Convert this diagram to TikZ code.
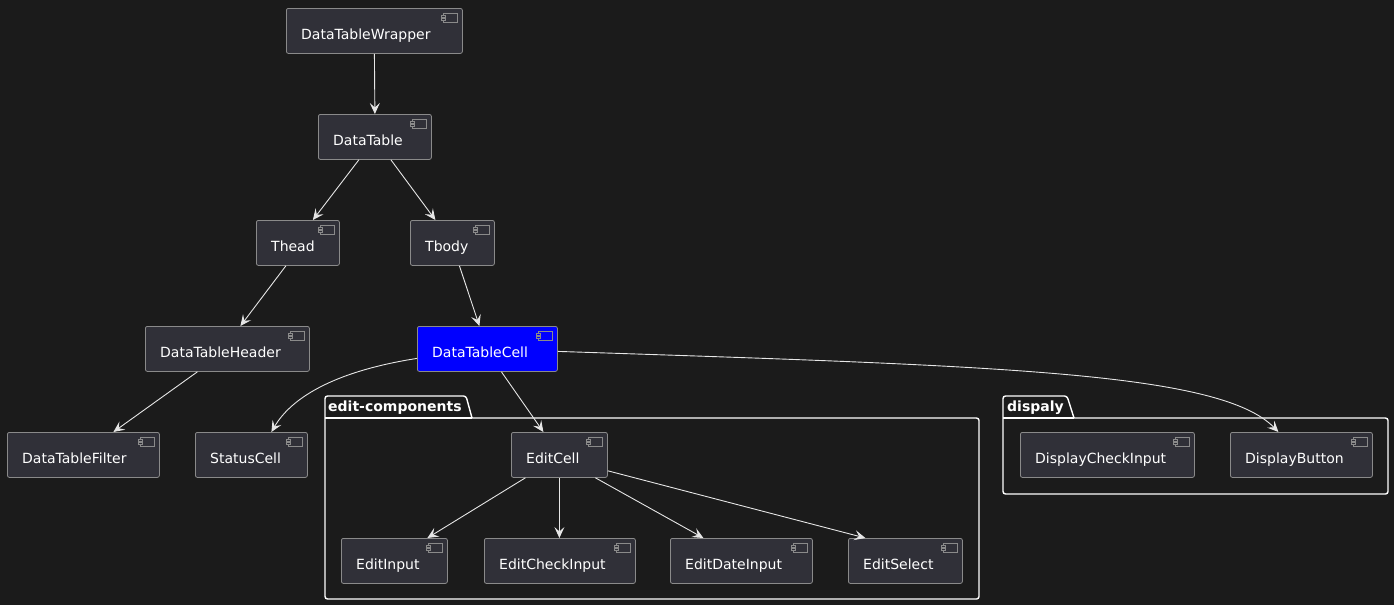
\documentclass[tikz,border=0pt]{standalone}
\usepackage{fontspec}
\setmainfont{DejaVu Sans}
\usetikzlibrary{arrows.meta}
\definecolor{bg}{HTML}{1B1B1B}
\definecolor{compfill}{HTML}{303038}
\definecolor{compline}{HTML}{8A8A8A}
\definecolor{edgecol}{HTML}{E6E6E6}
\definecolor{cellblue}{HTML}{0000FF}
\tikzset{
  compbox/.style={draw=compline, line width=0.8pt, rounded corners=2pt, inner sep=0pt},
  comptext/.style={text=white, font=\fontsize{14}{16}\selectfont, anchor=base west, inner sep=0pt},
  flow/.style={draw=edgecol, line width=0.9pt, -{Stealth[length=11pt,width=10pt,inset=4.5pt]}},
  pkg/.style={draw=white, line width=1.4pt},
  pkgtext/.style={text=white, font=\bfseries\fontsize{14}{16}\selectfont, anchor=base west, inner sep=0pt}
}
% #1 name, #2 left, #3 top, #4 right, #5 bottom, #6 text, #7 fill
\newcommand\compnode[7]{%
  \node[compbox, fill=#7, minimum width=#4pt-#2pt, minimum height=#5pt-#3pt, anchor=north west] (#1) at (#2,#3) {};
  \node[comptext] (#1-t) at (#2+15,#3+31.5) {#6};
  \draw[compline, line width=0.7pt] (#4-19,#3+5) rectangle (#4-5,#3+14);
  \draw[compline, line width=0.7pt, fill=#7] (#4-21,#3+7) rectangle (#4-17,#3+9);
  \draw[compline, line width=0.7pt, fill=#7] (#4-21,#3+10.5) rectangle (#4-17,#3+12.5);
}
\begin{document}
\begin{tikzpicture}[x=1pt,y=-1pt]
\fill[bg] (0,0) rectangle (1394,605);
\useasboundingbox (0,0) rectangle (1394,605);

% packages
\draw[pkg, rounded corners=2.5pt] (325,418) -- (325,396) -- (466,396) [sharp corners] -- (472,418) [rounded corners=2.5pt] -- (979,418) -- (979,599) -- (325,599) -- (325,418);
\draw[white, line width=1.4pt] (325,418) -- (472,418);
\node[pkgtext] (pkgedit) at (328,411) {edit-components};
\draw[pkg, rounded corners=2.5pt] (1003,418) -- (1003,396) -- (1067,396) [sharp corners] -- (1074,418) [rounded corners=2.5pt] -- (1388,418) -- (1388,494) -- (1003,494) -- (1003,418);
\draw[white, line width=1.4pt] (1003,418) -- (1074,418);
\node[pkgtext] (pkgdisp) at (1007,411) {dispaly};

\compnode{wrapper}{286}{8}{462}{53}{DataTableWrapper}{compfill}
\compnode{table}{318}{114}{431}{159}{DataTable}{compfill}
\compnode{thead}{256}{220}{339}{265}{Thead}{compfill}
\compnode{tbody}{410}{220}{494}{265}{Tbody}{compfill}
\compnode{header}{145}{326}{309}{371}{DataTableHeader}{compfill}
\compnode{cell}{417}{326}{557}{371}{DataTableCell}{cellblue}
\compnode{filter}{7}{432}{159}{477}{DataTableFilter}{compfill}
\compnode{status}{195}{432}{307}{477}{StatusCell}{compfill}
\compnode{editcell}{511}{432}{607}{477}{EditCell}{compfill}
\compnode{editinput}{341}{538}{447}{583}{EditInput}{compfill}
\compnode{editcheck}{484}{538}{635}{583}{EditCheckInput}{compfill}
\compnode{editdate}{670}{538}{812}{583}{EditDateInput}{compfill}
\compnode{editselect}{848}{538}{962}{583}{EditSelect}{compfill}
\compnode{dispcheck}{1020}{432}{1194}{477}{DisplayCheckInput}{compfill}
\compnode{dispbutton}{1230}{432}{1372}{477}{DisplayButton}{compfill}

% connectors
\draw[flow] (wrapper.south) -- (table.north);
\draw[flow] ([xshift=-16pt]table.south) -- ([xshift=15pt]thead.north);
\draw[flow] ([xshift=16pt]table.south) -- ([xshift=-17pt]tbody.north);
\draw[flow] ([xshift=-12pt]thead.south) -- ([xshift=13pt]header.north);
\draw[flow] ([xshift=7pt]tbody.south) -- ([xshift=-8pt]cell.north);
\draw[flow] ([xshift=-30pt]header.south) -- ([xshift=30pt]filter.north);
\draw[flow] ([yshift=-9.5pt]cell.west) .. controls (330,372) and (290,400) .. ([xshift=20pt]status.north);
\draw[flow] ([xshift=14pt]cell.south) -- ([xshift=-16pt]editcell.north);
\draw[flow] ([yshift=-2.5pt]cell.east) .. controls (1000,366) and (1220,372) .. ([xshift=-23pt]dispbutton.north);
\draw[flow] ([xshift=-34pt]editcell.south) -- ([xshift=33pt]editinput.north);
\draw[flow] (editcell.south) -- ([xshift=-0.5pt]editcheck.north);
\draw[flow] ([xshift=36pt]editcell.south) -- ([xshift=-38pt]editdate.north);
\draw[flow] ([yshift=7pt]editcell.south east) -- ([xshift=-40pt]editselect.north);
\end{tikzpicture}
\end{document}
